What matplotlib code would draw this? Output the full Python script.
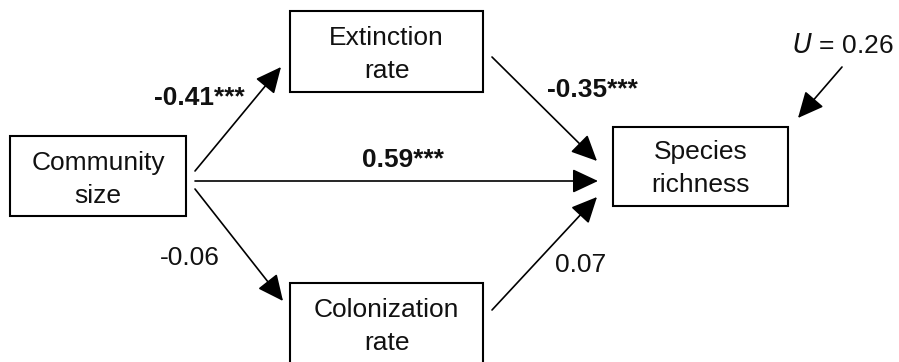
import matplotlib.pyplot as plt
from matplotlib.patches import FancyArrowPatch, Rectangle

plt.rcParams["font.family"] = ["Liberation Sans", "DejaVu Sans"]

# path model: nodes, paths and standardized coefficients
nodes = ["community", "extinction", "colonization", "richness"]
node_lines = {
    "community": ["Community", "size"],
    "extinction": ["Extinction", "rate"],
    "colonization": ["Colonization", "rate"],
    "richness": ["Species", "richness"],
}
path_from = ["community", "community", "community", "extinction", "colonization"]
path_to = ["extinction", "richness", "colonization", "richness", "richness"]
coef = [-0.41, 0.59, -0.06, -0.35, 0.07]
signif = ["***", "***", "", "***", ""]
unexplained = 0.26

# layout in pixel units (x right, y down)
box = {
    "community": (10, 136, 186, 216),
    "extinction": (290, 11, 483, 92),
    "colonization": (290, 283, 483, 368),
    "richness": (613, 127, 788, 206),
}
line_baselines = {
    "community": (170, 203),
    "extinction": (45, 78),
    "colonization": (317, 350),
    "richness": (159, 192),
}
arrow_ends = [
    ((195, 171), (281, 67)),
    ((195, 181), (598, 181)),
    ((195, 189), (283, 301)),
    ((492, 57), (597, 161)),
    ((492, 310), (597, 197)),
]
label_anchor = [(154, 105), (362, 167), (160, 265), (547, 97), (555, 272)]
u_arrow = ((842, 67), (798, 118))
u_anchor = (792, 53)

FS = 19
fig = plt.figure(figsize=(8.99, 3.62), dpi=100, facecolor="white")
ax = fig.add_axes([0, 0, 1, 1])
ax.set_xlim(0, 899)
ax.set_ylim(362, 0)
ax.axis("off")

for n in nodes:
    x0, y0, x1, y1 = box[n]
    ax.add_patch(Rectangle((x0, y0), x1 - x0, y1 - y0, facecolor="white",
                           edgecolor="black", linewidth=1.5, zorder=2))
    cx = (x0 + x1) / 2
    for text, yb in zip(node_lines[n], line_baselines[n]):
        ax.text(cx, yb, text, ha="center", va="baseline", fontsize=FS, color="#111111", zorder=3)


def arrow(p0, p1):
    ax.add_patch(FancyArrowPatch(p0, p1, arrowstyle="-|>,head_length=16,head_width=7.5",
                                 mutation_scale=1, linewidth=1.2, color="black",
                                 shrinkA=0, shrinkB=0, zorder=1))


for (p0, p1), c, s, (lx, ly) in zip(arrow_ends, coef, signif, label_anchor):
    arrow(p0, p1)
    weight = "bold" if s else "normal"
    ax.text(lx, ly, f"{c:.2f}{s}", ha="left", va="baseline", fontsize=FS,
            fontweight=weight, color="#111111")

arrow(*u_arrow)
ax.text(u_anchor[0], u_anchor[1], f"$\\mathit{{U}}$ = {unexplained:.2f}", ha="left",
        va="baseline", fontsize=FS, color="#111111")

fig.savefig("out.png", dpi=100, facecolor="white")
